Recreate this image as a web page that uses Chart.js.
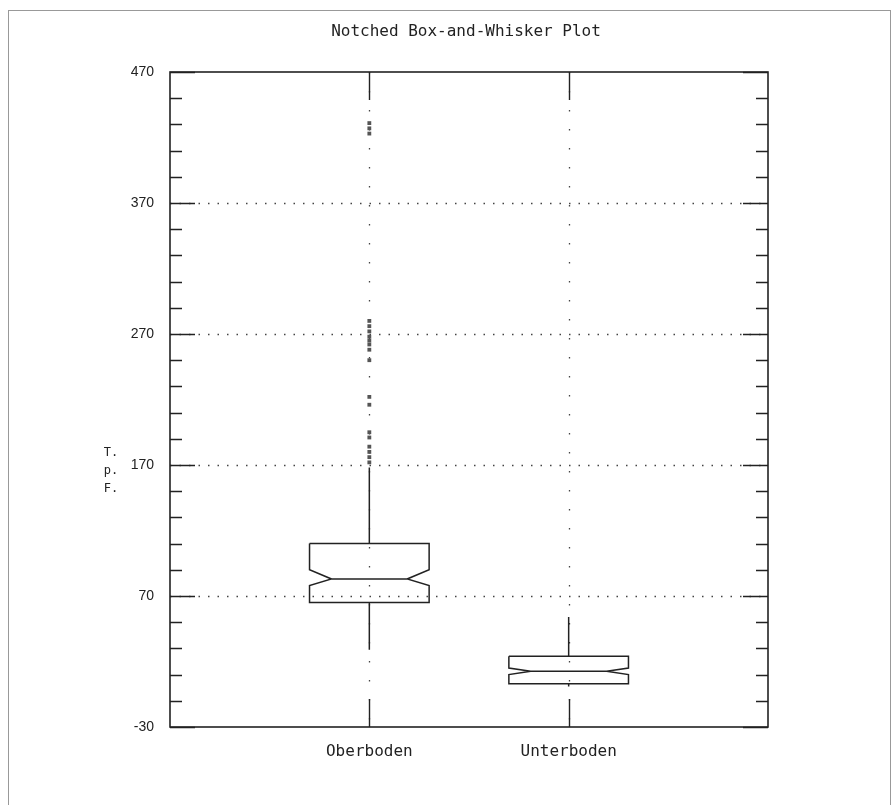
<!DOCTYPE html>
<html>
<head>
<meta charset="utf-8">
<script src="https://cdn.jsdelivr.net/npm/chart.js@4.4.0/dist/chart.umd.min.js"></script>
<style>
  body { margin: 0; background: #fff; }
  #wrap { position: relative; width: 896px; height: 805px; overflow: hidden; }
  #chart { position: absolute; left: 0; top: 0; }
  #frame { position: absolute; left: 8px; top: 10px; width: 881px; height: 820px; border: 1px solid #999; pointer-events: none; }
  #title { position: absolute; left: 266px; top: 21px; width: 400px; text-align: center;
           font: 16px 'DejaVu Sans Mono', monospace; line-height: 20px; color: #222; }
  #ylabel { position: absolute; left: 102px; top: 443px; width: 18px; text-align: center;
            font: 12px 'DejaVu Sans Mono', monospace; line-height: 18px; color: #222; }
</style>
</head>
<body>
<div id="wrap">
  <canvas id="chart" width="896" height="805"></canvas>
  <div id="frame"></div>
  <div id="title">Notched Box-and-Whisker Plot</div>
  <div id="ylabel">T.<br>p.<br>F.</div>
</div>
<script>
// Werte
const categories = ['Oberboden', 'Unterboden'];
const q1 = [65, 3];
const q3 = [110, 24];
const medians = [83, 12.5];
const notchLow = [78, 10];
const notchHigh = [90, 15];
const whiskerLow = [29, 1];
const whiskerHigh = [168, 54];
const outliersOber = [172, 176, 180, 184, 191, 195, 216, 222, 250, 258, 262, 265, 268, 272, 276, 280, 423, 427, 431];
const yMin = -30, yMax = 470, yStep = 20;

function isMajor(v) {
    return Math.round(v - yMin) % 100 === 0;
}

// Umriss der gekerbten Box in Datenkoordinaten
function boxPath(i) {
    const c = i + 1, hw = 0.3, nw = 0.19;
    return [
        { x: c - hw, y: q3[i] }, { x: c + hw, y: q3[i] },
        { x: c + hw, y: notchHigh[i] }, { x: c + nw, y: medians[i] }, { x: c + hw, y: notchLow[i] },
        { x: c + hw, y: q1[i] }, { x: c - hw, y: q1[i] },
        { x: c - hw, y: notchLow[i] }, { x: c - nw, y: medians[i] }, { x: c - hw, y: notchHigh[i] },
        { x: c - hw, y: q3[i] },
        { x: c, y: null },
        { x: c - nw, y: medians[i] }, { x: c + nw, y: medians[i] },
        { x: c, y: null },
        { x: c, y: q3[i] }, { x: c, y: whiskerHigh[i] },
        { x: c, y: null },
        { x: c, y: q1[i] }, { x: c, y: whiskerLow[i] }
    ];
}

const framePlugin = {
    id: 'frame',
    beforeDatasetsDraw(chart) {
        const { ctx, chartArea: a, scales: { x, y } } = chart;
        ctx.save();
        // punktierte Gitterlinien
        ctx.strokeStyle = '#444';
        ctx.lineWidth = 1.3;
        ctx.setLineDash([1.5, 8]);
        y.ticks.forEach(t => {
            if (!isMajor(t.value) || t.value === yMin || t.value === yMax) return;
            const py = Math.round(y.getPixelForValue(t.value)) + 0.5;
            ctx.beginPath(); ctx.moveTo(a.left, py); ctx.lineTo(a.right, py); ctx.stroke();
        });
        ctx.setLineDash([1.5, 17.5]);
        categories.forEach((_, i) => {
            const px = Math.round(x.getPixelForValue(i + 1)) + 0.5;
            ctx.beginPath(); ctx.moveTo(px, a.top); ctx.lineTo(px, a.bottom); ctx.stroke();
        });
        // Teilstriche innen
        ctx.setLineDash([]);
        ctx.strokeStyle = '#222';
        ctx.lineWidth = 1.4;
        y.ticks.forEach(t => {
            const len = isMajor(t.value) ? 25 : 12;
            const py = Math.round(y.getPixelForValue(t.value)) + 0.5;
            ctx.beginPath();
            ctx.moveTo(a.left, py); ctx.lineTo(a.left + len, py);
            ctx.moveTo(a.right - len, py); ctx.lineTo(a.right, py);
            ctx.stroke();
        });
        categories.forEach((_, i) => {
            const px = Math.round(x.getPixelForValue(i + 1)) + 0.5;
            ctx.beginPath();
            ctx.moveTo(px, a.top); ctx.lineTo(px, a.top + 28);
            ctx.moveTo(px, a.bottom - 28); ctx.lineTo(px, a.bottom);
            ctx.stroke();
        });
        ctx.lineWidth = 1.6;
        ctx.strokeRect(a.left, a.top, a.right - a.left, a.bottom - a.top);
        ctx.restore();
    }
};

const datasets = categories.map((name, i) => ({
    label: name,
    data: boxPath(i),
    showLine: true,
    spanGaps: false,
    pointRadius: 0,
    borderColor: '#222',
    borderWidth: 1.5,
    tension: 0
}));
datasets.push({
    label: 'Ausreisser',
    data: outliersOber.map(v => ({ x: 1, y: v })),
    showLine: false,
    pointStyle: 'rect',
    pointRadius: 2.7,
    backgroundColor: '#555',
    borderWidth: 0
});

const monoFont = { family: "'DejaVu Sans Mono', monospace", size: 16, weight: 'normal' };

new Chart(document.getElementById('chart').getContext('2d'), {
    type: 'scatter',
    data: { datasets: datasets },
    options: {
        responsive: false,
        animation: false,
        layout: { padding: { left: 0, right: 128, top: 72, bottom: 0 } },
        plugins: {
            legend: { display: false },
            tooltip: { enabled: false },
            title: { display: false }
        },
        scales: {
            x: {
                type: 'linear',
                min: 0,
                max: 3,
                afterFit: s => { s.height = 78; },
                grid: { display: false, drawTicks: false },
                border: { display: false },
                ticks: {
                    stepSize: 1,
                    autoSkip: false,
                    maxRotation: 0,
                    padding: 15,
                    color: '#222',
                    font: monoFont,
                    callback: v => categories[v - 1] ?? ''
                }
            },
            y: {
                type: 'linear',
                min: yMin,
                max: yMax,
                afterFit: s => { s.width = 170; },
                grid: { display: false, drawTicks: false },
                border: { display: false },
                ticks: {
                    stepSize: yStep,
                    autoSkip: false,
                    padding: 16,
                    color: '#222',
                    font: { family: "'Liberation Sans', sans-serif", size: 14 },
                    callback: v => isMajor(v) ? v : ''
                }
            }
        }
    },
    plugins: [framePlugin]
});
</script>
</body>
</html>
